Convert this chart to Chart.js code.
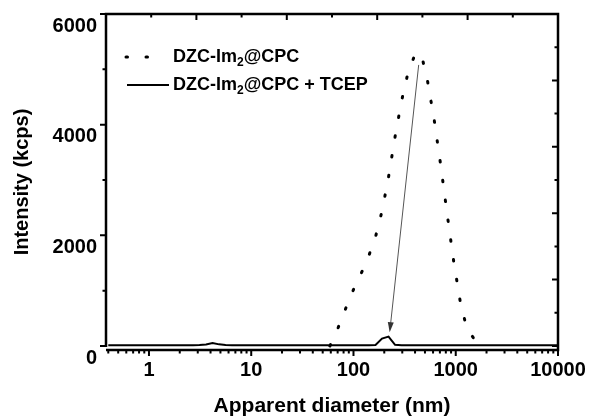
<!DOCTYPE html>
<html>
<head>
<meta charset="utf-8">
<script src="https://cdn.jsdelivr.net/npm/chart.js@4.4.1/dist/chart.umd.min.js"></script>
<style>
    html, body { margin: 0; padding: 0; background: #fff; }
    canvas { display: block; }
</style>
</head>
<body>
<canvas id="dls" width="590" height="417"></canvas>
<script>
// DLS size bins (nm)
const diameters = [0.4, 0.4632, 0.5365, 0.6213, 0.7195, 0.8332, 0.9649, 1.117, 1.294, 1.499,
    1.736, 2.010, 2.328, 2.696, 3.122, 3.615, 4.187, 4.849, 5.615, 6.503,
    7.531, 8.721, 10.10, 11.70, 13.54, 15.69, 18.17, 21.04, 24.36, 28.21,
    32.67, 37.84, 43.82, 50.75, 58.77, 68.06, 78.82, 91.28, 105.7, 122.4,
    141.8, 164.2, 190.1, 220.2, 255.0, 295.3, 342.0, 396.1, 458.7, 531.2,
    615.1, 712.4, 825.0, 955.4, 1106, 1281, 1484, 1718, 1990, 2305,
    2669, 3091, 3580, 4145, 4801, 5560, 6439, 7456, 8635, 10000];

// DZC-Im2@CPC + TCEP (kcps), one value per bin
const tcepIntensity = [15, 15, 15, 15, 15, 15, 15, 15, 15, 15,
    15, 15, 15, 15, 18, 28, 55, 30, 18, 15,
    15, 15, 15, 15, 15, 15, 15, 15, 15, 15,
    15, 15, 15, 15, 15, 15, 15, 15, 15, 15,
    15, 18, 135, 170, 22, 15, 15, 15, 15, 15,
    15, 15, 15, 15, 15, 15, 15, 15, 15, 15,
    15, 15, 15, 15, 15, 15, 15, 15, 15, 15];

// DZC-Im2@CPC (kcps), non-zero part of the distribution
const cpcDiameters = [58.77, 68.06, 78.82, 91.28, 105.7, 122.4, 141.8, 164.2, 190.1, 220.2,
    255.0, 295.3, 342.0, 396.1, 458.7, 531.2, 615.1, 712.4, 825.0, 955.4,
    1106, 1281, 1484, 1718, 1990];
const cpcIntensity = [0, 250, 551, 851, 1122, 1363, 1640, 1973, 2435, 3055,
    3782, 4428, 4947, 5250, 5290, 4778, 4091, 3272, 2380, 1525,
    806, 320, 150, 40, 0];

const xTickValues = [0.4, 0.5, 0.6, 0.7, 0.8, 0.9, 1, 2, 3, 4, 5, 6, 7, 8, 9, 10,
    20, 30, 40, 50, 60, 70, 80, 90, 100, 200, 300, 400, 500, 600, 700, 800, 900, 1000,
    2000, 3000, 4000, 5000, 6000, 7000, 8000, 9000, 10000];
const xLabels = [1, 10, 100, 1000, 10000];
const yTickValues = [0, 1000, 2000, 3000, 4000, 5000, 6000];
const yLabels = [0, 2000, 4000, 6000];
const frameTicks = [0, 1, 2, 3, 4, 5, 6, 7, 8, 9, 10];

const seriesNames = [
    [['DZC-Im', false], ['2', true], ['@CPC', false]],
    [['DZC-Im', false], ['2', true], ['@CPC + TCEP', false]]
];
// arrow from the big peak down to the small one (data coords)
const arrowFrom = [434, 5080];
const arrowTo = [226, 250];

const FONT = '"Liberation Sans", Arial, Helvetica, sans-serif';

function drawRich(ctx, parts, x, y, size) {
    parts.forEach(([txt, sub]) => {
        ctx.font = 'bold ' + (sub ? Math.round(size * 0.68) : size) + 'px ' + FONT;
        ctx.fillText(txt, x, sub ? y + size * 0.3 : y);
        x += ctx.measureText(txt).width;
    });
}

const frame = {
    id: 'frame',
    afterDraw(chart) {
        const {ctx, chartArea: a, scales} = chart;
        const x = scales.x, y = scales.y, xt = scales.xt, yr = scales.yr;
        const y0 = y.getPixelForValue(0);
        ctx.save();
        ctx.strokeStyle = '#000';
        ctx.lineWidth = 2.5;
        ctx.beginPath();
        ctx.moveTo(a.left, a.top - 1.25); ctx.lineTo(a.left, y0 + 1);
        ctx.moveTo(a.left - 1.25, a.top); ctx.lineTo(a.right + 1.25, a.top);
        ctx.moveTo(a.right, a.top); ctx.lineTo(a.right, a.bottom + 1.25);
        ctx.moveTo(a.left, a.bottom); ctx.lineTo(a.right, a.bottom);
        ctx.stroke();

        ctx.lineWidth = 2;
        ctx.beginPath();
        yTickValues.forEach(v => {
            let p = y.getPixelForValue(v);
            let len = yLabels.includes(v) ? 6 : 3.5;
            ctx.moveTo(a.left, p); ctx.lineTo(a.left - len, p);
        });
        xTickValues.forEach(v => {
            let p = x.getPixelForValue(v);
            let len = xLabels.includes(v) ? 6 : 3.5;
            ctx.moveTo(p, a.bottom); ctx.lineTo(p, a.bottom + len);
        });
        frameTicks.forEach(v => {
            let len = v % 2 ? 3.5 : 6;
            let px = xt.getPixelForValue(v);
            ctx.moveTo(px, a.top); ctx.lineTo(px, a.top + len);
            let py = yr.getPixelForValue(v);
            ctx.moveTo(a.right, py); ctx.lineTo(a.right - len, py);
        });
        ctx.stroke();
        ctx.restore();
    },
    afterDatasetsDraw(chart) {
        const {ctx, scales: {x, y}, data} = chart;
        ctx.save();
        // arrow
        let x1 = x.getPixelForValue(arrowFrom[0]), y1 = y.getPixelForValue(arrowFrom[1]);
        let x2 = x.getPixelForValue(arrowTo[0]), y2 = y.getPixelForValue(arrowTo[1]);
        let ang = Math.atan2(y2 - y1, x2 - x1);
        ctx.strokeStyle = '#555';
        ctx.fillStyle = '#333';
        ctx.lineWidth = 1;
        ctx.beginPath();
        ctx.moveTo(x1, y1);
        ctx.lineTo(x2 - 8 * Math.cos(ang), y2 - 8 * Math.sin(ang));
        ctx.stroke();
        ctx.beginPath();
        ctx.moveTo(x2, y2);
        ctx.lineTo(x2 - 10 * Math.cos(ang) + 3 * Math.sin(ang), y2 - 10 * Math.sin(ang) - 3 * Math.cos(ang));
        ctx.lineTo(x2 - 10 * Math.cos(ang) - 3 * Math.sin(ang), y2 - 10 * Math.sin(ang) + 3 * Math.cos(ang));
        ctx.closePath();
        ctx.fill();

        // legend
        const rows = [57, 85];
        data.datasets.forEach((ds, i) => {
            ctx.strokeStyle = ds.borderColor;
            ctx.lineWidth = ds.borderWidth;
            ctx.lineCap = ds.borderCapStyle || 'butt';
            ctx.setLineDash(ds.borderDash || []);
            ctx.beginPath();
            if (ds.borderDash) {
                ctx.moveTo(126, rows[i]); ctx.lineTo(152, rows[i]);
            } else {
                ctx.moveTo(127, rows[i]); ctx.lineTo(169, rows[i]);
            }
            ctx.stroke();
            ctx.setLineDash([]);
            ctx.fillStyle = '#000';
            ctx.textBaseline = 'middle';
            drawRich(ctx, seriesNames[i], 173, rows[i], 18);
        });
        ctx.restore();
    }
};

const tickFont = {family: FONT, size: 20, weight: 'bold'};

new Chart(document.getElementById('dls'), {
    type: 'line',
    data: {
        datasets: [{
            label: 'DZC-Im2@CPC',
            data: cpcDiameters.map((d, i) => ({x: d, y: cpcIntensity[i]})),
            borderColor: '#000',
            borderWidth: 3,
            borderDash: [1.5, 18.5],
            borderCapStyle: 'round',
            pointRadius: 0,
            tension: 0
        }, {
            label: 'DZC-Im2@CPC + TCEP',
            data: diameters.map((d, i) => ({x: d, y: tcepIntensity[i]})),
            borderColor: '#000',
            borderWidth: 2,
            pointRadius: 0,
            tension: 0
        }]
    },
    options: {
        responsive: false,
        animation: false,
        devicePixelRatio: 1,
        layout: {padding: {top: 14, right: 32, bottom: 0, left: 0}},
        plugins: {
            legend: {display: false},
            tooltip: {enabled: false}
        },
        scales: {
            x: {
                type: 'logarithmic',
                position: 'bottom',
                min: 0.38,
                max: 10000,
                afterBuildTicks: s => { s.ticks = xTickValues.map(v => ({value: v})); },
                afterFit: s => { s.height = 67; s.paddingLeft = 0; s.paddingRight = 0; },
                grid: {display: false, drawTicks: false},
                border: {display: false},
                ticks: {
                    autoSkip: false, maxRotation: 0, padding: 8, color: '#000', font: tickFont,
                    callback: v => xLabels.includes(v) ? String(v) : ''
                },
                title: {
                    display: true, text: 'Apparent diameter (nm)', color: '#000',
                    font: {family: FONT, size: 21, weight: 'bold', lineHeight: 1},
                    padding: {top: 0, bottom: 0}
                }
            },
            y: {
                min: -72,
                max: 6000,
                afterBuildTicks: s => { s.ticks = yTickValues.map(v => ({value: v})); },
                afterFit: s => { s.width = 106; s.paddingTop = 0; s.paddingBottom = 0; },
                grid: {display: false, drawTicks: false},
                border: {display: false},
                ticks: {
                    padding: 9, labelOffset: 12, color: '#000', font: tickFont,
                    callback: v => yLabels.includes(v) ? String(v) : ''
                },
                title: {
                    display: true, text: 'Intensity (kcps)', color: '#000',
                    font: {family: FONT, size: 20, weight: 'bold', lineHeight: 1},
                    padding: {top: 12, bottom: 0}
                }
            },
            xt: {
                type: 'linear', position: 'top', min: 0, max: 10,
                grid: {display: false, drawTicks: false}, border: {display: false},
                ticks: {display: false},
                afterFit: s => { s.height = 0; }
            },
            yr: {
                type: 'linear', position: 'right', min: -0.12, max: 10,
                grid: {display: false, drawTicks: false}, border: {display: false},
                ticks: {display: false},
                afterFit: s => { s.width = 0; }
            }
        }
    },
    plugins: [frame]
});
</script>
</body>
</html>
